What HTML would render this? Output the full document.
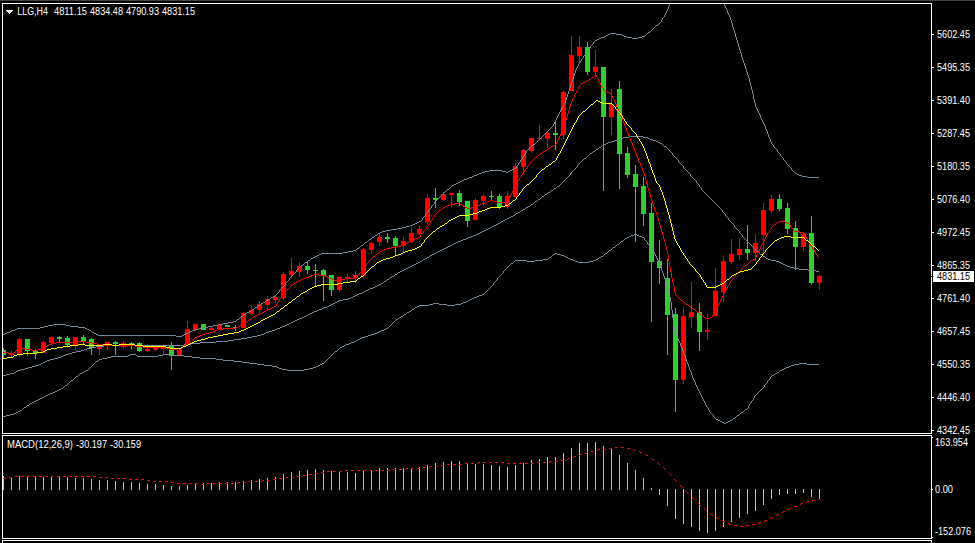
<!DOCTYPE html>
<html><head><meta charset="utf-8"><title>LLG,H4</title>
<style>
html,body{margin:0;padding:0;background:#000;overflow:hidden}
svg{display:block}
text{font-family:"Liberation Sans",sans-serif;font-size:10px;fill:#fff}
.ln{fill:none;stroke-width:1}
</style></head><body>
<svg width="975" height="543" viewBox="0 0 975 543" shape-rendering="crispEdges">
<rect x="0" y="0" width="975" height="543" fill="#000"/>
<rect x="0" y="0" width="975" height="1" fill="#404040"/>

<defs><clipPath id="cm"><rect x="3" y="4" width="928" height="429"/></clipPath><clipPath id="cd"><rect x="3" y="436" width="928" height="102"/></clipPath></defs>
<g clip-path="url(#cm)">
<rect x="3" y="348" width="1" height="10" fill="#32cd32"/>
<rect x="1" y="350" width="5" height="5" fill="#32cd32"/>
<rect x="11" y="350" width="1" height="7" fill="#ff0000"/>
<rect x="9" y="353" width="5" height="2" fill="#ff0000"/>
<rect x="19" y="338" width="1" height="19" fill="#ff0000"/>
<rect x="17" y="339" width="5" height="15" fill="#ff0000"/>
<rect x="27" y="339" width="1" height="17" fill="#32cd32"/>
<rect x="25" y="339" width="5" height="12" fill="#32cd32"/>
<rect x="35" y="349" width="1" height="10" fill="#32cd32"/>
<rect x="33" y="351" width="5" height="2" fill="#32cd32"/>
<rect x="43" y="341" width="1" height="12" fill="#ff0000"/>
<rect x="41" y="342" width="5" height="11" fill="#ff0000"/>
<rect x="51" y="336" width="1" height="8" fill="#ff0000"/>
<rect x="49" y="337" width="5" height="6" fill="#ff0000"/>
<rect x="59" y="336" width="1" height="6" fill="#32cd32"/>
<rect x="57" y="337" width="5" height="2" fill="#32cd32"/>
<rect x="67" y="336" width="1" height="10" fill="#32cd32"/>
<rect x="65" y="338" width="5" height="7" fill="#32cd32"/>
<rect x="75" y="337" width="1" height="13" fill="#ff0000"/>
<rect x="73" y="337" width="5" height="9" fill="#ff0000"/>
<rect x="83" y="335" width="1" height="9" fill="#32cd32"/>
<rect x="81" y="337" width="5" height="5" fill="#32cd32"/>
<rect x="91" y="338" width="1" height="17" fill="#32cd32"/>
<rect x="89" y="339" width="5" height="9" fill="#32cd32"/>
<rect x="99" y="345" width="1" height="10" fill="#ff0000"/>
<rect x="97" y="346" width="5" height="3" fill="#ff0000"/>
<rect x="107" y="342" width="1" height="8" fill="#ff0000"/>
<rect x="105" y="342" width="5" height="4" fill="#ff0000"/>
<rect x="115" y="341" width="1" height="14" fill="#32cd32"/>
<rect x="113" y="342" width="5" height="2" fill="#32cd32"/>
<rect x="123" y="341" width="1" height="8" fill="#ff0000"/>
<rect x="121" y="343" width="5" height="4" fill="#ff0000"/>
<rect x="131" y="342" width="1" height="7" fill="#32cd32"/>
<rect x="129" y="343" width="5" height="2" fill="#32cd32"/>
<rect x="139" y="342" width="1" height="10" fill="#32cd32"/>
<rect x="137" y="343" width="5" height="8" fill="#32cd32"/>
<rect x="147" y="344" width="1" height="8" fill="#ff0000"/>
<rect x="145" y="349" width="5" height="2" fill="#ff0000"/>
<rect x="155" y="347" width="1" height="4" fill="#ff0000"/>
<rect x="153" y="348" width="5" height="2" fill="#ff0000"/>
<rect x="163" y="344" width="1" height="10" fill="#ff0000"/>
<rect x="161" y="346" width="5" height="3" fill="#ff0000"/>
<rect x="171" y="342" width="1" height="28" fill="#32cd32"/>
<rect x="169" y="346" width="5" height="9" fill="#32cd32"/>
<rect x="179" y="349" width="1" height="6" fill="#ff0000"/>
<rect x="177" y="350" width="5" height="5" fill="#ff0000"/>
<rect x="187" y="321" width="1" height="23" fill="#ff0000"/>
<rect x="185" y="329" width="5" height="15" fill="#ff0000"/>
<rect x="195" y="324" width="1" height="7" fill="#ff0000"/>
<rect x="193" y="324" width="5" height="6" fill="#ff0000"/>
<rect x="203" y="324" width="1" height="6" fill="#32cd32"/>
<rect x="201" y="324" width="5" height="6" fill="#32cd32"/>
<rect x="211" y="326" width="1" height="5" fill="#ff0000"/>
<rect x="209" y="328" width="5" height="2" fill="#ff0000"/>
<rect x="219" y="324" width="1" height="6" fill="#ff0000"/>
<rect x="217" y="325" width="5" height="4" fill="#ff0000"/>
<rect x="227" y="325" width="1" height="2" fill="#32cd32"/>
<rect x="225" y="325" width="5" height="2" fill="#32cd32"/>
<rect x="235" y="325" width="1" height="6" fill="#32cd32"/>
<rect x="233" y="327" width="5" height="1" fill="#32cd32"/>
<rect x="243" y="312" width="1" height="16" fill="#ff0000"/>
<rect x="241" y="313" width="5" height="15" fill="#ff0000"/>
<rect x="251" y="305" width="1" height="10" fill="#ff0000"/>
<rect x="249" y="310" width="5" height="4" fill="#ff0000"/>
<rect x="259" y="301" width="1" height="12" fill="#ff0000"/>
<rect x="257" y="304" width="5" height="6" fill="#ff0000"/>
<rect x="267" y="296" width="1" height="14" fill="#ff0000"/>
<rect x="265" y="299" width="5" height="6" fill="#ff0000"/>
<rect x="275" y="295" width="1" height="8" fill="#ff0000"/>
<rect x="273" y="297" width="5" height="3" fill="#ff0000"/>
<rect x="283" y="272" width="1" height="28" fill="#ff0000"/>
<rect x="281" y="274" width="5" height="24" fill="#ff0000"/>
<rect x="291" y="258" width="1" height="20" fill="#ff0000"/>
<rect x="289" y="271" width="5" height="4" fill="#ff0000"/>
<rect x="299" y="262" width="1" height="15" fill="#ff0000"/>
<rect x="297" y="266" width="5" height="6" fill="#ff0000"/>
<rect x="307" y="261" width="1" height="13" fill="#32cd32"/>
<rect x="305" y="266" width="5" height="4" fill="#32cd32"/>
<rect x="315" y="264" width="1" height="22" fill="#32cd32"/>
<rect x="313" y="270" width="5" height="1" fill="#32cd32"/>
<rect x="323" y="269" width="1" height="32" fill="#32cd32"/>
<rect x="321" y="270" width="5" height="6" fill="#32cd32"/>
<rect x="331" y="275" width="1" height="21" fill="#32cd32"/>
<rect x="329" y="275" width="5" height="15" fill="#32cd32"/>
<rect x="339" y="277" width="1" height="15" fill="#ff0000"/>
<rect x="337" y="277" width="5" height="13" fill="#ff0000"/>
<rect x="347" y="274" width="1" height="8" fill="#ff0000"/>
<rect x="345" y="277" width="5" height="2" fill="#ff0000"/>
<rect x="355" y="271" width="1" height="12" fill="#ff0000"/>
<rect x="353" y="275" width="5" height="3" fill="#ff0000"/>
<rect x="363" y="248" width="1" height="30" fill="#ff0000"/>
<rect x="361" y="249" width="5" height="27" fill="#ff0000"/>
<rect x="371" y="242" width="1" height="12" fill="#ff0000"/>
<rect x="369" y="243" width="5" height="7" fill="#ff0000"/>
<rect x="379" y="234" width="1" height="12" fill="#ff0000"/>
<rect x="377" y="237" width="5" height="5" fill="#ff0000"/>
<rect x="387" y="233" width="1" height="10" fill="#32cd32"/>
<rect x="385" y="237" width="5" height="2" fill="#32cd32"/>
<rect x="395" y="236" width="1" height="19" fill="#32cd32"/>
<rect x="393" y="238" width="5" height="8" fill="#32cd32"/>
<rect x="403" y="237" width="1" height="15" fill="#ff0000"/>
<rect x="401" y="241" width="5" height="5" fill="#ff0000"/>
<rect x="411" y="227" width="1" height="16" fill="#ff0000"/>
<rect x="409" y="233" width="5" height="9" fill="#ff0000"/>
<rect x="419" y="226" width="1" height="9" fill="#ff0000"/>
<rect x="417" y="229" width="5" height="5" fill="#ff0000"/>
<rect x="427" y="194" width="1" height="30" fill="#ff0000"/>
<rect x="425" y="198" width="5" height="24" fill="#ff0000"/>
<rect x="435" y="188" width="1" height="20" fill="#32cd32"/>
<rect x="433" y="198" width="5" height="2" fill="#32cd32"/>
<rect x="443" y="192" width="1" height="9" fill="#ff0000"/>
<rect x="441" y="194" width="5" height="6" fill="#ff0000"/>
<rect x="451" y="193" width="1" height="14" fill="#ff0000"/>
<rect x="449" y="193" width="5" height="2" fill="#ff0000"/>
<rect x="459" y="190" width="1" height="16" fill="#32cd32"/>
<rect x="457" y="193" width="5" height="9" fill="#32cd32"/>
<rect x="467" y="201" width="1" height="26" fill="#32cd32"/>
<rect x="465" y="201" width="5" height="20" fill="#32cd32"/>
<rect x="475" y="198" width="1" height="22" fill="#ff0000"/>
<rect x="473" y="200" width="5" height="20" fill="#ff0000"/>
<rect x="483" y="194" width="1" height="12" fill="#ff0000"/>
<rect x="481" y="196" width="5" height="5" fill="#ff0000"/>
<rect x="491" y="191" width="1" height="9" fill="#32cd32"/>
<rect x="489" y="196" width="5" height="1" fill="#32cd32"/>
<rect x="499" y="194" width="1" height="15" fill="#32cd32"/>
<rect x="497" y="196" width="5" height="11" fill="#32cd32"/>
<rect x="507" y="191" width="1" height="18" fill="#ff0000"/>
<rect x="505" y="196" width="5" height="11" fill="#ff0000"/>
<rect x="515" y="163" width="1" height="34" fill="#ff0000"/>
<rect x="513" y="166" width="5" height="31" fill="#ff0000"/>
<rect x="523" y="149" width="1" height="25" fill="#ff0000"/>
<rect x="521" y="150" width="5" height="17" fill="#ff0000"/>
<rect x="531" y="138" width="1" height="15" fill="#ff0000"/>
<rect x="529" y="138" width="5" height="13" fill="#ff0000"/>
<rect x="539" y="125" width="1" height="16" fill="#ff0000"/>
<rect x="537" y="138" width="5" height="1" fill="#ff0000"/>
<rect x="547" y="132" width="1" height="16" fill="#ff0000"/>
<rect x="545" y="133" width="5" height="6" fill="#ff0000"/>
<rect x="555" y="121" width="1" height="29" fill="#32cd32"/>
<rect x="553" y="133" width="5" height="2" fill="#32cd32"/>
<rect x="563" y="91" width="1" height="48" fill="#ff0000"/>
<rect x="561" y="92" width="5" height="43" fill="#ff0000"/>
<rect x="571" y="36" width="1" height="55" fill="#ff0000"/>
<rect x="569" y="55" width="5" height="36" fill="#ff0000"/>
<rect x="579" y="36" width="1" height="28" fill="#ff0000"/>
<rect x="577" y="47" width="5" height="9" fill="#ff0000"/>
<rect x="587" y="42" width="1" height="33" fill="#32cd32"/>
<rect x="585" y="47" width="5" height="25" fill="#32cd32"/>
<rect x="595" y="50" width="1" height="26" fill="#ff0000"/>
<rect x="593" y="67" width="5" height="5" fill="#ff0000"/>
<rect x="603" y="67" width="1" height="124" fill="#32cd32"/>
<rect x="601" y="67" width="5" height="50" fill="#32cd32"/>
<rect x="611" y="89" width="1" height="46" fill="#ff0000"/>
<rect x="609" y="104" width="5" height="13" fill="#ff0000"/>
<rect x="619" y="81" width="1" height="108" fill="#32cd32"/>
<rect x="617" y="89" width="5" height="65" fill="#32cd32"/>
<rect x="627" y="147" width="1" height="31" fill="#32cd32"/>
<rect x="625" y="153" width="5" height="22" fill="#32cd32"/>
<rect x="635" y="165" width="1" height="77" fill="#32cd32"/>
<rect x="633" y="174" width="5" height="13" fill="#32cd32"/>
<rect x="643" y="177" width="1" height="49" fill="#32cd32"/>
<rect x="641" y="186" width="5" height="28" fill="#32cd32"/>
<rect x="651" y="203" width="1" height="119" fill="#32cd32"/>
<rect x="649" y="213" width="5" height="49" fill="#32cd32"/>
<rect x="659" y="240" width="1" height="44" fill="#32cd32"/>
<rect x="657" y="261" width="5" height="7" fill="#32cd32"/>
<rect x="667" y="259" width="1" height="96" fill="#32cd32"/>
<rect x="665" y="278" width="5" height="37" fill="#32cd32"/>
<rect x="675" y="308" width="1" height="104" fill="#32cd32"/>
<rect x="673" y="314" width="5" height="66" fill="#32cd32"/>
<rect x="683" y="307" width="1" height="77" fill="#ff0000"/>
<rect x="681" y="316" width="5" height="64" fill="#ff0000"/>
<rect x="691" y="282" width="1" height="46" fill="#ff0000"/>
<rect x="689" y="312" width="5" height="5" fill="#ff0000"/>
<rect x="699" y="303" width="1" height="48" fill="#32cd32"/>
<rect x="697" y="312" width="5" height="20" fill="#32cd32"/>
<rect x="707" y="314" width="1" height="26" fill="#ff0000"/>
<rect x="705" y="330" width="5" height="2" fill="#ff0000"/>
<rect x="715" y="268" width="1" height="48" fill="#ff0000"/>
<rect x="713" y="291" width="5" height="25" fill="#ff0000"/>
<rect x="723" y="256" width="1" height="46" fill="#ff0000"/>
<rect x="721" y="261" width="5" height="31" fill="#ff0000"/>
<rect x="731" y="239" width="1" height="25" fill="#ff0000"/>
<rect x="729" y="254" width="5" height="8" fill="#ff0000"/>
<rect x="739" y="238" width="1" height="22" fill="#ff0000"/>
<rect x="737" y="249" width="5" height="6" fill="#ff0000"/>
<rect x="747" y="225" width="1" height="35" fill="#32cd32"/>
<rect x="745" y="249" width="5" height="4" fill="#32cd32"/>
<rect x="755" y="234" width="1" height="27" fill="#ff0000"/>
<rect x="753" y="243" width="5" height="10" fill="#ff0000"/>
<rect x="763" y="203" width="1" height="52" fill="#ff0000"/>
<rect x="761" y="210" width="5" height="25" fill="#ff0000"/>
<rect x="771" y="195" width="1" height="18" fill="#ff0000"/>
<rect x="769" y="199" width="5" height="12" fill="#ff0000"/>
<rect x="779" y="194" width="1" height="17" fill="#32cd32"/>
<rect x="777" y="199" width="5" height="10" fill="#32cd32"/>
<rect x="787" y="203" width="1" height="31" fill="#32cd32"/>
<rect x="785" y="208" width="5" height="21" fill="#32cd32"/>
<rect x="795" y="221" width="1" height="49" fill="#32cd32"/>
<rect x="793" y="228" width="5" height="19" fill="#32cd32"/>
<rect x="803" y="233" width="1" height="18" fill="#ff0000"/>
<rect x="801" y="234" width="5" height="13" fill="#ff0000"/>
<rect x="811" y="216" width="1" height="69" fill="#32cd32"/>
<rect x="809" y="233" width="5" height="50" fill="#32cd32"/>
<rect x="819" y="275" width="1" height="15" fill="#ff0000"/>
<rect x="817" y="276" width="5" height="7" fill="#ff0000"/>
<path class="ln" stroke="#778899" d="M669 4.5h1M669 5.5h1M668 6.5h1M668 7.5h1M668 8.5h1M667 9.5h1M667 10.5h1M666 11.5h1M666 12.5h1M665 13.5h1M665 14.5h1M664 15.5h1M664 16.5h1M663 17.5h1M662 18.5h1M662 19.5h1M661 20.5h1M661 21.5h1M660 22.5h1M659 23.5h1M658 24.5h1M656 25.5h2M655 26.5h1M654 27.5h1M653 28.5h1M652 29.5h1M651 30.5h1M650 31.5h1M648 32.5h2M610 33.5h6M647 33.5h1M608 34.5h2M616 34.5h6M646 34.5h1M606 35.5h2M622 35.5h2M645 35.5h1M604 36.5h2M624 36.5h3M642 36.5h3M601 37.5h3M627 37.5h5M638 37.5h4M599 38.5h2M632 38.5h6M597 39.5h2M595 40.5h2M594 41.5h1M593 42.5h1M593 43.5h1M592 44.5h1M591 45.5h1M590 46.5h1M590 47.5h1M589 48.5h1M588 49.5h1M587 50.5h1M587 51.5h1M586 52.5h1M585 53.5h1M585 54.5h1M584 55.5h1M583 56.5h1M583 57.5h1M582 58.5h1M581 59.5h1M581 60.5h1M580 61.5h1M580 62.5h1M579 63.5h1M578 64.5h1M578 65.5h1M577 66.5h1M577 67.5h1M576 68.5h1M576 69.5h1M575 70.5h1M575 71.5h1M575 72.5h1M574 73.5h1M574 74.5h1M574 75.5h1M573 76.5h1M573 77.5h1M573 78.5h1M572 79.5h1M572 80.5h1M572 81.5h1M571 82.5h1M571 83.5h1M571 84.5h1M570 85.5h1M570 86.5h1M570 87.5h1M569 88.5h1M569 89.5h1M569 90.5h1M568 91.5h1M568 92.5h1M568 93.5h1M567 94.5h1M567 95.5h1M567 96.5h1M566 97.5h1M566 98.5h1M566 99.5h1M565 100.5h1M565 101.5h1M565 102.5h1M564 103.5h1M564 104.5h1M563 105.5h1M563 106.5h1M562 107.5h1M561 108.5h1M561 109.5h1M560 110.5h1M560 111.5h1M559 112.5h1M559 113.5h1M558 114.5h1M558 115.5h1M557 116.5h1M557 117.5h1M556 118.5h1M556 119.5h1M555 120.5h1M555 121.5h1M554 122.5h1M554 123.5h1M553 124.5h1M553 125.5h1M552 126.5h1M551 127.5h1M550 128.5h1M549 129.5h1M548 130.5h1M547 131.5h1M546 132.5h1M545 133.5h1M544 134.5h1M543 135.5h1M542 136.5h1M541 137.5h1M540 138.5h1M539 139.5h1M538 140.5h1M537 141.5h1M536 142.5h1M535 143.5h1M533 144.5h2M532 145.5h1M531 146.5h1M530 147.5h1M529 148.5h1M528 149.5h1M527 150.5h1M526 151.5h1M526 152.5h1M525 153.5h1M524 154.5h1M524 155.5h1M523 156.5h1M522 157.5h1M522 158.5h1M521 159.5h1M520 160.5h1M520 161.5h1M519 162.5h1M518 163.5h1M518 164.5h1M517 165.5h1M516 166.5h1M516 167.5h1M514 168.5h2M512 169.5h2M489 170.5h13M510 170.5h2M485 171.5h4M502 171.5h4M508 171.5h2M482 172.5h3M506 172.5h2M479 173.5h3M477 174.5h2M474 175.5h3M472 176.5h2M469 177.5h3M467 178.5h2M464 179.5h3M462 180.5h2M460 181.5h2M458 182.5h2M456 183.5h2M454 184.5h2M452 185.5h2M451 186.5h1M450 187.5h1M449 188.5h1M447 189.5h2M446 190.5h1M445 191.5h1M444 192.5h1M443 193.5h1M442 194.5h1M441 195.5h1M440 196.5h1M439 197.5h1M438 198.5h1M437 199.5h1M436 200.5h1M435 201.5h1M434 202.5h1M434 203.5h1M433 204.5h1M432 205.5h1M431 206.5h1M431 207.5h1M430 208.5h1M429 209.5h1M428 210.5h1M428 211.5h1M427 212.5h1M426 213.5h1M425 214.5h1M425 215.5h1M424 216.5h1M423 217.5h1M422 218.5h1M422 219.5h1M421 220.5h1M419 221.5h2M417 222.5h2M415 223.5h2M413 224.5h2M410 225.5h3M406 226.5h4M402 227.5h4M397 228.5h5M391 229.5h6M386 230.5h5M382 231.5h4M380 232.5h2M378 233.5h2M377 234.5h1M375 235.5h2M374 236.5h1M372 237.5h2M371 238.5h1M369 239.5h2M368 240.5h1M367 241.5h1M365 242.5h2M364 243.5h1M363 244.5h1M361 245.5h2M360 246.5h1M359 247.5h1M357 248.5h2M356 249.5h1M353 250.5h3M348 251.5h5M343 252.5h5M321 253.5h22M319 254.5h2M317 255.5h2M315 256.5h2M313 257.5h2M311 258.5h2M310 259.5h1M308 260.5h2M307 261.5h1M305 262.5h2M304 263.5h1M303 264.5h1M301 265.5h2M300 266.5h1M299 267.5h1M298 268.5h1M297 269.5h1M296 270.5h1M296 271.5h1M295 272.5h1M294 273.5h1M293 274.5h1M292 275.5h1M291 276.5h1M290 277.5h1M289 278.5h1M289 279.5h1M288 280.5h1M287 281.5h1M286 282.5h1M285 283.5h1M285 284.5h1M284 285.5h1M283 286.5h1M282 287.5h1M281 288.5h1M280 289.5h1M279 290.5h1M279 291.5h1M278 292.5h1M277 293.5h1M276 294.5h1M275 295.5h1M273 296.5h2M271 297.5h2M270 298.5h1M268 299.5h2M266 300.5h2M265 301.5h1M263 302.5h2M261 303.5h2M260 304.5h1M258 305.5h2M257 306.5h1M255 307.5h2M254 308.5h1M252 309.5h2M251 310.5h1M249 311.5h2M247 312.5h2M246 313.5h1M244 314.5h2M243 315.5h1M241 316.5h2M240 317.5h1M239 318.5h1M237 319.5h2M236 320.5h1M233 321.5h3M228 322.5h5M223 323.5h5M53 324.5h13M218 324.5h5M48 325.5h5M66 325.5h4M213 325.5h5M44 326.5h4M70 326.5h8M208 326.5h5M40 327.5h4M78 327.5h7M203 327.5h5M17 328.5h23M85 328.5h2M199 328.5h4M15 329.5h2M87 329.5h2M195 329.5h4M12 330.5h3M89 330.5h2M192 330.5h3M10 331.5h2M91 331.5h1M190 331.5h2M7 332.5h3M92 332.5h2M188 332.5h2M5 333.5h2M94 333.5h2M186 333.5h2M3 334.5h2M96 334.5h2M184 334.5h2M98 335.5h78M182 335.5h2M176 336.5h6"/>
<path class="ln" stroke="#778899" d="M724 4.5h1M724 5.5h1M725 6.5h1M725 7.5h1M726 8.5h1M726 9.5h1M727 10.5h1M727 11.5h1M727 12.5h1M728 13.5h1M728 14.5h1M729 15.5h1M729 16.5h1M730 17.5h1M730 18.5h1M730 19.5h1M731 20.5h1M731 21.5h1M731 22.5h1M732 23.5h1M732 24.5h1M732 25.5h1M732 26.5h1M733 27.5h1M733 28.5h1M733 29.5h1M734 30.5h1M734 31.5h1M734 32.5h1M735 33.5h1M735 34.5h1M735 35.5h1M735 36.5h1M736 37.5h1M736 38.5h1M736 39.5h1M737 40.5h1M737 41.5h1M737 42.5h1M738 43.5h1M738 44.5h1M738 45.5h1M738 46.5h1M739 47.5h1M739 48.5h1M739 49.5h1M740 50.5h1M740 51.5h1M740 52.5h1M741 53.5h1M741 54.5h1M741 55.5h1M741 56.5h1M742 57.5h1M742 58.5h1M742 59.5h1M743 60.5h1M743 61.5h1M743 62.5h1M744 63.5h1M744 64.5h1M744 65.5h1M745 66.5h1M745 67.5h1M745 68.5h1M746 69.5h1M746 70.5h1M746 71.5h1M747 72.5h1M747 73.5h1M747 74.5h1M748 75.5h1M748 76.5h1M748 77.5h1M749 78.5h1M749 79.5h1M749 80.5h1M749 81.5h1M750 82.5h1M750 83.5h1M750 84.5h1M750 85.5h1M751 86.5h1M751 87.5h1M751 88.5h1M751 89.5h1M752 90.5h1M752 91.5h1M752 92.5h1M752 93.5h1M753 94.5h1M753 95.5h1M753 96.5h1M753 97.5h1M753 98.5h1M754 99.5h1M754 100.5h1M754 101.5h1M754 102.5h1M755 103.5h1M755 104.5h1M755 105.5h1M755 106.5h1M756 107.5h1M756 108.5h1M757 109.5h1M757 110.5h1M758 111.5h1M758 112.5h1M759 113.5h1M759 114.5h1M760 115.5h1M760 116.5h1M760 117.5h1M761 118.5h1M761 119.5h1M762 120.5h1M762 121.5h1M763 122.5h1M763 123.5h1M764 124.5h1M764 125.5h1M765 126.5h1M765 127.5h1M765 128.5h1M766 129.5h1M766 130.5h1M767 131.5h1M767 132.5h1M767 133.5h1M768 134.5h1M768 135.5h1M768 136.5h1M769 137.5h1M769 138.5h1M770 139.5h1M770 140.5h1M770 141.5h1M771 142.5h1M771 143.5h1M772 144.5h1M773 145.5h1M773 146.5h1M774 147.5h1M775 148.5h1M776 149.5h1M777 150.5h1M777 151.5h1M778 152.5h1M779 153.5h1M780 154.5h1M780 155.5h1M781 156.5h1M782 157.5h1M783 158.5h1M783 159.5h1M784 160.5h1M785 161.5h1M786 162.5h1M786 163.5h1M787 164.5h1M788 165.5h1M789 166.5h1M790 167.5h1M791 168.5h1M791 169.5h1M792 170.5h1M793 171.5h1M794 172.5h1M795 173.5h2M797 174.5h2M799 175.5h3M802 176.5h5M807 177.5h12"/>
<path class="ln" stroke="#778899" d="M629 136.5h14M623 137.5h6M643 137.5h5M620 138.5h3M648 138.5h2M617 139.5h3M650 139.5h3M614 140.5h3M653 140.5h3M611 141.5h3M656 141.5h2M608 142.5h3M658 142.5h2M606 143.5h2M660 143.5h2M604 144.5h2M662 144.5h1M602 145.5h2M663 145.5h1M601 146.5h1M664 146.5h2M599 147.5h2M666 147.5h1M598 148.5h1M667 148.5h1M596 149.5h2M668 149.5h1M595 150.5h1M669 150.5h1M593 151.5h2M670 151.5h1M592 152.5h1M671 152.5h1M590 153.5h2M672 153.5h1M589 154.5h1M672 154.5h1M588 155.5h1M673 155.5h1M587 156.5h1M674 156.5h1M586 157.5h1M675 157.5h1M584 158.5h2M676 158.5h1M583 159.5h1M677 159.5h1M582 160.5h1M678 160.5h1M581 161.5h1M678 161.5h1M580 162.5h1M679 162.5h1M579 163.5h1M680 163.5h1M578 164.5h1M681 164.5h1M577 165.5h1M682 165.5h1M577 166.5h1M683 166.5h1M576 167.5h1M683 167.5h1M575 168.5h1M684 168.5h1M574 169.5h1M685 169.5h1M573 170.5h1M686 170.5h1M572 171.5h1M687 171.5h1M571 172.5h1M688 172.5h1M570 173.5h1M689 173.5h1M570 174.5h1M690 174.5h1M569 175.5h1M690 175.5h1M568 176.5h1M691 176.5h1M567 177.5h1M692 177.5h1M566 178.5h1M693 178.5h1M565 179.5h1M694 179.5h1M564 180.5h1M695 180.5h1M563 181.5h1M696 181.5h1M562 182.5h1M696 182.5h1M561 183.5h1M697 183.5h1M560 184.5h1M698 184.5h1M559 185.5h1M699 185.5h1M557 186.5h2M699 186.5h1M556 187.5h1M700 187.5h1M554 188.5h2M701 188.5h1M553 189.5h1M701 189.5h1M551 190.5h2M702 190.5h1M550 191.5h1M703 191.5h1M548 192.5h2M704 192.5h1M547 193.5h1M705 193.5h1M545 194.5h2M706 194.5h1M544 195.5h1M707 195.5h1M542 196.5h2M708 196.5h1M541 197.5h1M709 197.5h1M540 198.5h1M710 198.5h1M538 199.5h2M711 199.5h1M537 200.5h1M712 200.5h1M535 201.5h2M713 201.5h1M534 202.5h1M714 202.5h1M533 203.5h1M715 203.5h1M531 204.5h2M716 204.5h1M530 205.5h1M717 205.5h1M528 206.5h2M718 206.5h1M526 207.5h2M719 207.5h1M525 208.5h1M720 208.5h1M523 209.5h2M721 209.5h1M521 210.5h2M722 210.5h1M520 211.5h1M722 211.5h1M518 212.5h2M723 212.5h1M516 213.5h2M724 213.5h1M515 214.5h1M725 214.5h1M513 215.5h2M725 215.5h1M511 216.5h2M726 216.5h1M509 217.5h2M727 217.5h1M507 218.5h2M728 218.5h1M505 219.5h2M728 219.5h1M503 220.5h2M729 220.5h1M501 221.5h2M730 221.5h1M500 222.5h1M731 222.5h1M498 223.5h2M732 223.5h1M496 224.5h2M733 224.5h1M494 225.5h2M734 225.5h1M492 226.5h2M734 226.5h1M490 227.5h2M735 227.5h1M488 228.5h2M736 228.5h1M486 229.5h2M737 229.5h1M484 230.5h2M738 230.5h1M482 231.5h2M739 231.5h1M480 232.5h2M739 232.5h1M478 233.5h2M740 233.5h1M476 234.5h2M741 234.5h1M473 235.5h3M742 235.5h1M471 236.5h2M742 236.5h1M468 237.5h3M743 237.5h1M466 238.5h2M744 238.5h1M463 239.5h3M745 239.5h1M461 240.5h2M746 240.5h1M458 241.5h3M747 241.5h1M456 242.5h2M748 242.5h1M454 243.5h2M749 243.5h1M452 244.5h2M750 244.5h1M450 245.5h2M751 245.5h1M448 246.5h2M752 246.5h1M446 247.5h2M753 247.5h1M444 248.5h2M754 248.5h1M442 249.5h2M755 249.5h1M440 250.5h2M756 250.5h1M438 251.5h2M757 251.5h1M436 252.5h2M758 252.5h1M434 253.5h2M759 253.5h1M432 254.5h2M760 254.5h2M430 255.5h2M762 255.5h1M429 256.5h1M763 256.5h2M427 257.5h2M765 257.5h1M425 258.5h2M766 258.5h2M423 259.5h2M768 259.5h3M422 260.5h1M771 260.5h5M420 261.5h2M776 261.5h3M418 262.5h2M779 262.5h2M416 263.5h2M781 263.5h2M414 264.5h2M783 264.5h2M412 265.5h2M785 265.5h2M410 266.5h2M787 266.5h3M408 267.5h2M790 267.5h4M406 268.5h2M794 268.5h5M404 269.5h2M799 269.5h9M402 270.5h2M808 270.5h8M400 271.5h2M816 271.5h3M398 272.5h2M397 273.5h1M395 274.5h2M394 275.5h1M392 276.5h2M390 277.5h2M389 278.5h1M387 279.5h2M386 280.5h1M384 281.5h2M383 282.5h1M381 283.5h2M379 284.5h2M377 285.5h2M375 286.5h2M373 287.5h2M370 288.5h3M368 289.5h2M366 290.5h2M364 291.5h2M362 292.5h2M359 293.5h3M357 294.5h2M355 295.5h2M353 296.5h2M351 297.5h2M348 298.5h3M343 299.5h5M339 300.5h4M337 301.5h2M335 302.5h2M333 303.5h2M331 304.5h2M329 305.5h2M327 306.5h2M324 307.5h3M322 308.5h2M319 309.5h3M317 310.5h2M314 311.5h3M312 312.5h2M310 313.5h2M308 314.5h2M306 315.5h2M304 316.5h2M302 317.5h2M299 318.5h3M297 319.5h2M295 320.5h2M293 321.5h2M291 322.5h2M289 323.5h2M287 324.5h2M285 325.5h2M282 326.5h3M280 327.5h2M277 328.5h3M275 329.5h2M272 330.5h3M269 331.5h3M266 332.5h3M264 333.5h2M261 334.5h3M257 335.5h4M252 336.5h5M247 337.5h5M241 338.5h6M234 339.5h7M228 340.5h6M216 341.5h12M200 342.5h16M191 343.5h9M184 344.5h7M104 345.5h80M96 346.5h8M91 347.5h5M87 348.5h4M84 349.5h3M81 350.5h3M76 351.5h5M72 352.5h4M69 353.5h3M66 354.5h3M63 355.5h3M61 356.5h2M58 357.5h3M54 358.5h4M50 359.5h4M47 360.5h3M45 361.5h2M43 362.5h2M41 363.5h2M39 364.5h2M36 365.5h3M32 366.5h4M28 367.5h4M25 368.5h3M21 369.5h4M18 370.5h3M16 371.5h2M14 372.5h2M10 373.5h4M6 374.5h4M3 375.5h3"/>
<path class="ln" stroke="#778899" d="M634 234.5h3M631 235.5h3M637 235.5h2M629 236.5h2M639 236.5h3M627 237.5h2M642 237.5h2M625 238.5h2M644 238.5h1M624 239.5h1M644 239.5h1M623 240.5h1M645 240.5h1M621 241.5h2M646 241.5h1M620 242.5h1M647 242.5h1M619 243.5h1M647 243.5h1M617 244.5h2M648 244.5h1M616 245.5h1M649 245.5h1M615 246.5h1M649 246.5h1M613 247.5h2M650 247.5h1M612 248.5h1M651 248.5h1M611 249.5h1M652 249.5h1M609 250.5h2M652 250.5h1M608 251.5h1M653 251.5h1M607 252.5h1M654 252.5h1M555 253.5h2M605 253.5h2M654 253.5h1M553 254.5h2M557 254.5h4M604 254.5h1M655 254.5h1M552 255.5h1M561 255.5h3M603 255.5h1M655 255.5h1M551 256.5h1M564 256.5h2M601 256.5h2M656 256.5h1M549 257.5h2M566 257.5h2M599 257.5h2M656 257.5h1M548 258.5h1M568 258.5h2M598 258.5h1M657 258.5h1M543 259.5h5M570 259.5h3M596 259.5h2M657 259.5h1M515 260.5h12M535 260.5h8M573 260.5h2M593 260.5h3M658 260.5h1M514 261.5h1M527 261.5h8M575 261.5h3M589 261.5h4M658 261.5h1M513 262.5h1M578 262.5h11M658 262.5h1M511 263.5h2M659 263.5h1M510 264.5h1M659 264.5h1M509 265.5h1M660 265.5h1M508 266.5h1M660 266.5h1M507 267.5h1M660 267.5h1M506 268.5h1M661 268.5h1M505 269.5h1M661 269.5h1M504 270.5h1M661 270.5h1M503 271.5h1M662 271.5h1M503 272.5h1M662 272.5h1M502 273.5h1M663 273.5h1M501 274.5h1M663 274.5h1M500 275.5h1M663 275.5h1M499 276.5h1M664 276.5h1M498 277.5h1M664 277.5h1M497 278.5h1M664 278.5h1M497 279.5h1M665 279.5h1M496 280.5h1M665 280.5h1M495 281.5h1M665 281.5h1M494 282.5h1M666 282.5h1M493 283.5h1M666 283.5h1M493 284.5h1M666 284.5h1M492 285.5h1M666 285.5h1M491 286.5h1M667 286.5h1M490 287.5h1M667 287.5h1M489 288.5h1M667 288.5h1M488 289.5h1M668 289.5h1M487 290.5h1M668 290.5h1M486 291.5h1M668 291.5h1M485 292.5h1M668 292.5h1M484 293.5h1M669 293.5h1M482 294.5h2M669 294.5h1M479 295.5h3M669 295.5h1M477 296.5h2M669 296.5h1M474 297.5h3M670 297.5h1M472 298.5h2M670 298.5h1M470 299.5h2M670 299.5h1M468 300.5h2M670 300.5h1M466 301.5h2M670 301.5h1M463 302.5h3M671 302.5h1M433 303.5h6M461 303.5h2M671 303.5h1M429 304.5h4M439 304.5h8M455 304.5h6M671 304.5h1M419 305.5h10M447 305.5h8M671 305.5h1M417 306.5h2M671 306.5h1M415 307.5h2M671 307.5h1M414 308.5h1M671 308.5h1M412 309.5h2M671 309.5h1M411 310.5h1M672 310.5h1M409 311.5h2M672 311.5h1M407 312.5h2M672 312.5h1M406 313.5h1M672 313.5h1M404 314.5h2M672 314.5h1M403 315.5h1M672 315.5h1M401 316.5h2M672 316.5h1M399 317.5h2M672 317.5h1M398 318.5h1M673 318.5h1M396 319.5h2M673 319.5h1M395 320.5h1M673 320.5h1M394 321.5h1M673 321.5h1M393 322.5h1M673 322.5h1M392 323.5h1M673 323.5h1M391 324.5h1M673 324.5h1M390 325.5h1M673 325.5h1M389 326.5h1M674 326.5h1M388 327.5h1M674 327.5h1M386 328.5h2M674 328.5h1M384 329.5h2M674 329.5h1M381 330.5h3M674 330.5h1M379 331.5h2M674 331.5h1M377 332.5h2M675 332.5h1M374 333.5h3M675 333.5h1M371 334.5h3M676 334.5h1M368 335.5h3M676 335.5h1M365 336.5h3M677 336.5h1M362 337.5h3M677 337.5h1M360 338.5h2M677 338.5h1M358 339.5h2M678 339.5h1M356 340.5h2M678 340.5h1M354 341.5h2M679 341.5h1M351 342.5h3M679 342.5h1M349 343.5h2M680 343.5h1M346 344.5h3M680 344.5h1M344 345.5h2M680 345.5h1M342 346.5h2M681 346.5h1M340 347.5h2M681 347.5h1M339 348.5h1M682 348.5h1M338 349.5h1M682 349.5h1M337 350.5h1M682 350.5h1M335 351.5h2M683 351.5h1M334 352.5h1M683 352.5h1M333 353.5h1M683 353.5h1M130 354.5h6M163 354.5h6M332 354.5h1M684 354.5h1M128 355.5h2M136 355.5h1M158 355.5h5M169 355.5h15M331 355.5h1M684 355.5h1M111 356.5h17M137 356.5h21M184 356.5h8M330 356.5h1M685 356.5h1M107 357.5h4M192 357.5h8M329 357.5h1M685 357.5h1M102 358.5h5M200 358.5h16M328 358.5h1M685 358.5h1M99 359.5h3M216 359.5h7M327 359.5h1M686 359.5h1M98 360.5h1M223 360.5h11M326 360.5h1M686 360.5h1M96 361.5h2M234 361.5h8M325 361.5h1M686 361.5h1M95 362.5h1M242 362.5h7M324 362.5h1M687 362.5h1M94 363.5h1M249 363.5h8M322 363.5h2M687 363.5h1M799 363.5h8M93 364.5h1M257 364.5h7M320 364.5h2M688 364.5h1M794 364.5h5M807 364.5h12M92 365.5h1M264 365.5h8M318 365.5h2M688 365.5h1M791 365.5h3M91 366.5h1M272 366.5h5M316 366.5h2M688 366.5h1M789 366.5h2M90 367.5h1M277 367.5h2M313 367.5h3M689 367.5h1M786 367.5h3M89 368.5h1M279 368.5h3M309 368.5h4M689 368.5h1M784 368.5h2M88 369.5h1M282 369.5h5M304 369.5h5M689 369.5h1M782 369.5h2M86 370.5h2M287 370.5h17M690 370.5h1M780 370.5h2M84 371.5h2M690 371.5h1M779 371.5h1M82 372.5h2M691 372.5h1M777 372.5h2M80 373.5h2M691 373.5h1M775 373.5h2M79 374.5h1M691 374.5h1M774 374.5h1M78 375.5h1M692 375.5h1M772 375.5h2M76 376.5h2M692 376.5h1M771 376.5h1M75 377.5h1M692 377.5h1M770 377.5h1M74 378.5h1M693 378.5h1M770 378.5h1M73 379.5h1M693 379.5h1M769 379.5h1M71 380.5h2M694 380.5h1M768 380.5h1M70 381.5h1M694 381.5h1M767 381.5h1M69 382.5h1M695 382.5h1M767 382.5h1M68 383.5h1M695 383.5h1M766 383.5h1M67 384.5h1M695 384.5h1M765 384.5h1M65 385.5h2M696 385.5h1M764 385.5h1M64 386.5h1M696 386.5h1M764 386.5h1M63 387.5h1M697 387.5h1M763 387.5h1M61 388.5h2M697 388.5h1M762 388.5h1M59 389.5h2M698 389.5h1M761 389.5h1M57 390.5h2M698 390.5h1M760 390.5h1M55 391.5h2M699 391.5h1M759 391.5h1M53 392.5h2M699 392.5h1M758 392.5h1M50 393.5h3M700 393.5h1M757 393.5h1M48 394.5h2M700 394.5h1M756 394.5h1M46 395.5h2M701 395.5h1M755 395.5h1M44 396.5h2M701 396.5h1M754 396.5h1M42 397.5h2M702 397.5h1M754 397.5h1M40 398.5h2M702 398.5h1M753 398.5h1M38 399.5h2M703 399.5h1M753 399.5h1M36 400.5h2M703 400.5h1M752 400.5h1M34 401.5h2M704 401.5h1M751 401.5h1M32 402.5h2M704 402.5h1M751 402.5h1M30 403.5h2M705 403.5h1M750 403.5h1M29 404.5h1M705 404.5h1M749 404.5h1M27 405.5h2M706 405.5h1M749 405.5h1M26 406.5h1M706 406.5h1M748 406.5h1M24 407.5h2M707 407.5h1M748 407.5h1M23 408.5h1M708 408.5h1M747 408.5h1M22 409.5h1M708 409.5h1M745 409.5h2M20 410.5h2M709 410.5h1M744 410.5h1M18 411.5h2M709 411.5h1M743 411.5h1M16 412.5h2M710 412.5h1M741 412.5h2M14 413.5h2M711 413.5h1M740 413.5h1M10 414.5h4M712 414.5h1M739 414.5h1M6 415.5h4M713 415.5h1M737 415.5h2M3 416.5h3M713 416.5h1M736 416.5h1M714 417.5h1M735 417.5h1M715 418.5h1M733 418.5h2M716 419.5h2M732 419.5h1M718 420.5h2M730 420.5h2M720 421.5h2M728 421.5h2M722 422.5h2M726 422.5h2M724 423.5h2"/>
<path class="ln" stroke="#ff0000" d="M596 75.5h1M594 76.5h3M592 77.5h2M597 77.5h1M591 78.5h1M597 78.5h1M589 79.5h2M598 79.5h1M587 80.5h2M598 80.5h1M585 81.5h2M599 81.5h1M583 82.5h2M599 82.5h1M581 83.5h2M600 83.5h1M580 84.5h1M600 84.5h1M579 85.5h1M601 85.5h1M579 86.5h1M601 86.5h1M578 87.5h1M602 87.5h1M578 88.5h1M603 88.5h1M577 89.5h1M603 89.5h1M577 90.5h1M604 90.5h1M576 91.5h1M605 91.5h2M576 92.5h1M607 92.5h2M575 93.5h1M609 93.5h2M575 94.5h1M611 94.5h1M574 95.5h1M611 95.5h1M574 96.5h1M612 96.5h1M573 97.5h1M612 97.5h1M573 98.5h1M613 98.5h1M572 99.5h1M613 99.5h1M572 100.5h1M614 100.5h1M571 101.5h1M614 101.5h1M571 102.5h1M615 102.5h1M571 103.5h1M615 103.5h1M570 104.5h1M616 104.5h1M570 105.5h1M616 105.5h1M570 106.5h1M616 106.5h1M569 107.5h1M617 107.5h1M569 108.5h1M617 108.5h1M569 109.5h1M618 109.5h1M569 110.5h1M618 110.5h1M568 111.5h1M619 111.5h1M568 112.5h1M619 112.5h1M568 113.5h1M620 113.5h1M567 114.5h1M620 114.5h1M567 115.5h1M620 115.5h1M567 116.5h1M621 116.5h1M566 117.5h1M621 117.5h1M566 118.5h1M622 118.5h1M566 119.5h1M622 119.5h1M565 120.5h1M622 120.5h1M565 121.5h1M623 121.5h1M565 122.5h1M623 122.5h1M565 123.5h1M624 123.5h1M564 124.5h1M624 124.5h1M564 125.5h1M624 125.5h1M564 126.5h1M625 126.5h1M563 127.5h1M625 127.5h1M563 128.5h1M626 128.5h1M563 129.5h1M626 129.5h1M562 130.5h1M626 130.5h1M562 131.5h1M627 131.5h1M561 132.5h1M627 132.5h1M561 133.5h1M628 133.5h1M560 134.5h1M628 134.5h1M560 135.5h1M628 135.5h1M559 136.5h1M629 136.5h1M559 137.5h1M629 137.5h1M558 138.5h1M630 138.5h1M558 139.5h1M630 139.5h1M557 140.5h1M630 140.5h1M557 141.5h1M631 141.5h1M556 142.5h1M631 142.5h1M556 143.5h1M632 143.5h1M555 144.5h1M632 144.5h1M553 145.5h2M632 145.5h1M551 146.5h2M633 146.5h1M550 147.5h1M633 147.5h1M548 148.5h2M634 148.5h1M547 149.5h1M634 149.5h1M545 150.5h2M634 150.5h1M543 151.5h2M635 151.5h1M542 152.5h1M635 152.5h1M540 153.5h2M636 153.5h1M539 154.5h1M636 154.5h1M538 155.5h1M636 155.5h1M537 156.5h1M637 156.5h1M535 157.5h2M637 157.5h1M534 158.5h1M638 158.5h1M533 159.5h1M638 159.5h1M532 160.5h1M638 160.5h1M531 161.5h1M639 161.5h1M530 162.5h1M639 162.5h1M530 163.5h1M640 163.5h1M529 164.5h1M640 164.5h1M528 165.5h1M640 165.5h1M527 166.5h1M641 166.5h1M527 167.5h1M641 167.5h1M526 168.5h1M642 168.5h1M525 169.5h1M642 169.5h1M524 170.5h1M642 170.5h1M524 171.5h1M643 171.5h1M523 172.5h1M643 172.5h1M522 173.5h1M644 173.5h1M522 174.5h1M644 174.5h1M521 175.5h1M644 175.5h1M521 176.5h1M645 176.5h1M520 177.5h1M645 177.5h1M519 178.5h1M645 178.5h1M519 179.5h1M645 179.5h1M518 180.5h1M646 180.5h1M517 181.5h1M646 181.5h1M517 182.5h1M646 182.5h1M516 183.5h1M646 183.5h1M516 184.5h1M647 184.5h1M515 185.5h1M647 185.5h1M515 186.5h1M647 186.5h1M514 187.5h1M647 187.5h1M514 188.5h1M648 188.5h1M513 189.5h1M648 189.5h1M513 190.5h1M648 190.5h1M512 191.5h1M649 191.5h1M512 192.5h1M649 192.5h1M511 193.5h1M649 193.5h1M511 194.5h1M650 194.5h1M510 195.5h1M650 195.5h1M510 196.5h1M650 196.5h1M509 197.5h1M650 197.5h1M509 198.5h1M651 198.5h1M508 199.5h1M651 199.5h1M490 200.5h3M508 200.5h1M651 200.5h1M487 201.5h3M493 201.5h4M507 201.5h1M652 201.5h1M485 202.5h2M497 202.5h11M652 202.5h1M455 203.5h5M482 203.5h3M652 203.5h1M450 204.5h5M460 204.5h2M480 204.5h2M653 204.5h1M447 205.5h3M462 205.5h1M478 205.5h2M653 205.5h1M445 206.5h2M463 206.5h2M476 206.5h2M653 206.5h1M443 207.5h2M465 207.5h2M471 207.5h5M654 207.5h1M442 208.5h1M467 208.5h4M654 208.5h1M441 209.5h1M654 209.5h1M439 210.5h2M655 210.5h1M438 211.5h1M655 211.5h1M437 212.5h1M656 212.5h1M436 213.5h1M656 213.5h1M435 214.5h1M656 214.5h1M434 215.5h1M657 215.5h1M434 216.5h1M657 216.5h1M433 217.5h1M657 217.5h1M432 218.5h1M658 218.5h1M432 219.5h1M658 219.5h1M431 220.5h1M658 220.5h1M430 221.5h1M659 221.5h1M779 221.5h6M430 222.5h1M659 222.5h1M777 222.5h2M785 222.5h2M429 223.5h1M659 223.5h1M776 223.5h1M787 223.5h2M428 224.5h1M659 224.5h1M774 224.5h2M789 224.5h1M428 225.5h1M660 225.5h1M773 225.5h1M790 225.5h1M427 226.5h1M660 226.5h1M772 226.5h1M790 226.5h1M426 227.5h1M660 227.5h1M771 227.5h1M791 227.5h1M426 228.5h1M661 228.5h1M771 228.5h1M792 228.5h1M425 229.5h1M661 229.5h1M770 229.5h1M793 229.5h1M424 230.5h1M661 230.5h1M769 230.5h1M793 230.5h1M423 231.5h1M661 231.5h1M769 231.5h1M794 231.5h5M423 232.5h1M662 232.5h1M768 232.5h1M799 232.5h5M422 233.5h1M662 233.5h1M767 233.5h1M804 233.5h1M421 234.5h1M662 234.5h1M767 234.5h1M804 234.5h1M420 235.5h1M663 235.5h1M766 235.5h1M805 235.5h1M420 236.5h1M663 236.5h1M766 236.5h1M805 236.5h1M418 237.5h2M663 237.5h1M765 237.5h1M806 237.5h1M415 238.5h3M663 238.5h1M765 238.5h1M806 238.5h1M413 239.5h2M664 239.5h1M764 239.5h1M807 239.5h1M411 240.5h2M664 240.5h1M764 240.5h1M807 240.5h1M409 241.5h2M664 241.5h1M763 241.5h1M808 241.5h1M407 242.5h2M665 242.5h1M763 242.5h1M808 242.5h1M406 243.5h1M665 243.5h1M762 243.5h1M809 243.5h1M404 244.5h2M665 244.5h1M762 244.5h1M810 244.5h1M401 245.5h3M665 245.5h1M761 245.5h1M810 245.5h1M397 246.5h4M666 246.5h1M761 246.5h1M811 246.5h1M391 247.5h6M666 247.5h1M760 247.5h1M812 247.5h1M386 248.5h5M666 248.5h1M760 248.5h1M812 248.5h1M384 249.5h2M666 249.5h1M759 249.5h1M813 249.5h1M382 250.5h2M667 250.5h1M759 250.5h1M814 250.5h1M380 251.5h2M667 251.5h1M758 251.5h1M814 251.5h1M379 252.5h1M667 252.5h1M758 252.5h1M815 252.5h1M377 253.5h2M667 253.5h1M757 253.5h1M815 253.5h1M376 254.5h1M667 254.5h1M757 254.5h1M816 254.5h1M375 255.5h1M668 255.5h1M756 255.5h1M817 255.5h1M373 256.5h2M668 256.5h1M756 256.5h1M817 256.5h1M372 257.5h1M668 257.5h1M755 257.5h1M818 257.5h1M371 258.5h1M668 258.5h1M755 258.5h1M370 259.5h1M668 259.5h1M753 259.5h2M369 260.5h1M668 260.5h1M751 260.5h2M369 261.5h1M669 261.5h1M750 261.5h1M368 262.5h1M669 262.5h1M749 262.5h1M367 263.5h1M669 263.5h1M748 263.5h1M366 264.5h1M669 264.5h1M747 264.5h1M365 265.5h1M669 265.5h1M745 265.5h2M365 266.5h1M669 266.5h1M744 266.5h1M364 267.5h1M670 267.5h1M743 267.5h1M363 268.5h1M670 268.5h1M742 268.5h1M362 269.5h1M670 269.5h1M741 269.5h1M361 270.5h1M670 270.5h1M740 270.5h1M361 271.5h1M670 271.5h1M739 271.5h1M360 272.5h1M671 272.5h1M738 272.5h1M359 273.5h1M671 273.5h1M737 273.5h1M314 274.5h5M358 274.5h1M671 274.5h1M736 274.5h1M311 275.5h3M319 275.5h6M357 275.5h1M671 275.5h1M735 275.5h1M309 276.5h2M325 276.5h2M357 276.5h1M671 276.5h1M735 276.5h1M306 277.5h3M327 277.5h3M356 277.5h1M671 277.5h1M734 277.5h1M303 278.5h3M330 278.5h2M345 278.5h11M672 278.5h1M733 278.5h1M301 279.5h2M332 279.5h2M341 279.5h4M672 279.5h1M732 279.5h1M299 280.5h2M334 280.5h7M672 280.5h1M731 280.5h1M297 281.5h2M672 281.5h1M730 281.5h1M295 282.5h2M672 282.5h1M730 282.5h1M294 283.5h1M673 283.5h1M729 283.5h1M292 284.5h2M673 284.5h1M729 284.5h1M291 285.5h1M673 285.5h1M728 285.5h1M290 286.5h1M673 286.5h1M727 286.5h1M289 287.5h1M674 287.5h1M727 287.5h1M288 288.5h1M674 288.5h1M726 288.5h1M287 289.5h1M674 289.5h1M726 289.5h1M286 290.5h1M674 290.5h1M725 290.5h1M285 291.5h1M674 291.5h1M725 291.5h1M284 292.5h1M675 292.5h1M724 292.5h1M283 293.5h1M675 293.5h1M724 293.5h1M282 294.5h1M675 294.5h1M723 294.5h1M282 295.5h1M676 295.5h1M723 295.5h1M281 296.5h1M677 296.5h1M722 296.5h1M281 297.5h1M678 297.5h1M722 297.5h1M280 298.5h1M679 298.5h1M721 298.5h1M279 299.5h1M680 299.5h1M721 299.5h1M279 300.5h1M681 300.5h1M720 300.5h1M278 301.5h1M682 301.5h2M720 301.5h1M277 302.5h1M684 302.5h1M719 302.5h1M277 303.5h1M685 303.5h1M719 303.5h1M276 304.5h1M686 304.5h2M718 304.5h1M276 305.5h1M688 305.5h1M718 305.5h1M274 306.5h2M689 306.5h2M717 306.5h1M272 307.5h2M691 307.5h1M717 307.5h1M270 308.5h2M692 308.5h1M716 308.5h1M268 309.5h2M693 309.5h2M716 309.5h1M266 310.5h2M695 310.5h1M715 310.5h1M264 311.5h2M696 311.5h1M714 311.5h1M262 312.5h2M697 312.5h2M714 312.5h1M260 313.5h2M699 313.5h1M713 313.5h1M258 314.5h2M700 314.5h1M713 314.5h1M256 315.5h2M701 315.5h2M712 315.5h1M254 316.5h2M703 316.5h1M712 316.5h1M252 317.5h2M704 317.5h1M710 317.5h2M251 318.5h1M705 318.5h2M708 318.5h2M249 319.5h2M707 319.5h1M248 320.5h1M247 321.5h1M245 322.5h2M244 323.5h1M242 324.5h2M240 325.5h2M238 326.5h2M236 327.5h2M223 328.5h13M218 329.5h5M215 330.5h3M213 331.5h2M209 332.5h4M205 333.5h4M202 334.5h3M200 335.5h2M197 336.5h3M195 337.5h2M194 338.5h1M193 339.5h1M192 340.5h1M78 341.5h8M191 341.5h1M56 342.5h22M86 342.5h6M190 342.5h1M52 343.5h4M92 343.5h5M188 343.5h2M49 344.5h3M97 344.5h6M186 344.5h2M47 345.5h2M103 345.5h32M184 345.5h2M45 346.5h2M135 346.5h8M183 346.5h1M44 347.5h1M143 347.5h24M182 347.5h1M21 348.5h5M42 348.5h2M167 348.5h3M181 348.5h1M18 349.5h3M26 349.5h6M38 349.5h4M170 349.5h8M180 349.5h1M16 350.5h2M32 350.5h6M178 350.5h2M15 351.5h1M3 352.5h5M14 352.5h1M8 353.5h2M12 353.5h2M10 354.5h2"/>
<path class="ln" stroke="#ffff00" d="M596 100.5h2M595 101.5h1M598 101.5h2M594 102.5h1M600 102.5h2M593 103.5h1M602 103.5h10M591 104.5h2M612 104.5h1M590 105.5h1M613 105.5h1M589 106.5h1M614 106.5h1M588 107.5h1M615 107.5h1M587 108.5h1M615 108.5h1M586 109.5h1M616 109.5h1M585 110.5h1M617 110.5h1M583 111.5h2M618 111.5h1M582 112.5h1M619 112.5h1M581 113.5h1M620 113.5h1M580 114.5h1M620 114.5h1M579 115.5h1M621 115.5h1M578 116.5h1M622 116.5h1M578 117.5h1M622 117.5h1M577 118.5h1M623 118.5h1M577 119.5h1M624 119.5h1M576 120.5h1M624 120.5h1M576 121.5h1M625 121.5h1M575 122.5h1M626 122.5h1M574 123.5h1M626 123.5h1M574 124.5h1M627 124.5h1M573 125.5h1M628 125.5h1M573 126.5h1M629 126.5h1M572 127.5h1M630 127.5h1M572 128.5h1M631 128.5h1M571 129.5h1M631 129.5h1M571 130.5h1M632 130.5h1M570 131.5h1M633 131.5h1M570 132.5h1M634 132.5h1M569 133.5h1M635 133.5h1M569 134.5h1M636 134.5h1M568 135.5h1M636 135.5h1M568 136.5h1M637 136.5h1M567 137.5h1M637 137.5h1M567 138.5h1M638 138.5h1M566 139.5h1M639 139.5h1M566 140.5h1M639 140.5h1M565 141.5h1M640 141.5h1M565 142.5h1M641 142.5h1M564 143.5h1M641 143.5h1M564 144.5h1M642 144.5h1M563 145.5h1M642 145.5h1M563 146.5h1M643 146.5h1M562 147.5h1M643 147.5h1M562 148.5h1M644 148.5h1M561 149.5h1M644 149.5h1M561 150.5h1M644 150.5h1M560 151.5h1M645 151.5h1M560 152.5h1M645 152.5h1M559 153.5h1M646 153.5h1M558 154.5h1M646 154.5h1M558 155.5h1M646 155.5h1M557 156.5h1M647 156.5h1M557 157.5h1M647 157.5h1M556 158.5h1M647 158.5h1M556 159.5h1M648 159.5h1M555 160.5h1M648 160.5h1M553 161.5h2M648 161.5h1M552 162.5h1M649 162.5h1M551 163.5h1M649 163.5h1M549 164.5h2M650 164.5h1M548 165.5h1M650 165.5h1M546 166.5h2M650 166.5h1M545 167.5h1M651 167.5h1M544 168.5h1M651 168.5h1M542 169.5h2M651 169.5h1M541 170.5h1M652 170.5h1M540 171.5h1M652 171.5h1M539 172.5h1M652 172.5h1M538 173.5h1M653 173.5h1M537 174.5h1M653 174.5h1M536 175.5h1M654 175.5h1M536 176.5h1M654 176.5h1M535 177.5h1M654 177.5h1M534 178.5h1M655 178.5h1M533 179.5h1M655 179.5h1M532 180.5h1M655 180.5h1M531 181.5h1M656 181.5h1M530 182.5h1M656 182.5h1M529 183.5h1M657 183.5h1M527 184.5h2M658 184.5h1M526 185.5h1M659 185.5h1M525 186.5h1M659 186.5h1M524 187.5h1M660 187.5h1M523 188.5h1M660 188.5h1M522 189.5h1M660 189.5h1M522 190.5h1M661 190.5h1M521 191.5h1M661 191.5h1M520 192.5h1M662 192.5h1M519 193.5h1M662 193.5h1M519 194.5h1M662 194.5h1M518 195.5h1M663 195.5h1M517 196.5h1M663 196.5h1M516 197.5h1M663 197.5h1M516 198.5h1M664 198.5h1M515 199.5h1M664 199.5h1M513 200.5h2M664 200.5h1M512 201.5h1M665 201.5h1M511 202.5h1M665 202.5h1M509 203.5h2M665 203.5h1M508 204.5h1M665 204.5h1M505 205.5h3M666 205.5h1M501 206.5h4M666 206.5h1M490 207.5h11M666 207.5h1M487 208.5h3M667 208.5h1M485 209.5h2M667 209.5h1M482 210.5h3M667 210.5h1M479 211.5h3M667 211.5h1M477 212.5h2M668 212.5h1M473 213.5h4M668 213.5h1M469 214.5h4M668 214.5h1M459 215.5h10M669 215.5h1M457 216.5h2M669 216.5h1M455 217.5h2M669 217.5h1M453 218.5h2M669 218.5h1M451 219.5h2M670 219.5h1M449 220.5h2M670 220.5h1M448 221.5h1M670 221.5h1M447 222.5h1M670 222.5h1M445 223.5h2M671 223.5h1M444 224.5h1M671 224.5h1M442 225.5h2M671 225.5h1M440 226.5h2M671 226.5h1M439 227.5h1M672 227.5h1M437 228.5h2M672 228.5h1M436 229.5h1M672 229.5h1M435 230.5h1M672 230.5h1M433 231.5h2M673 231.5h1M432 232.5h1M673 232.5h1M431 233.5h1M673 233.5h1M430 234.5h1M673 234.5h1M429 235.5h1M674 235.5h1M428 236.5h1M674 236.5h1M784 236.5h7M427 237.5h1M674 237.5h1M781 237.5h3M791 237.5h13M426 238.5h1M674 238.5h1M779 238.5h2M804 238.5h1M425 239.5h1M675 239.5h1M777 239.5h2M805 239.5h1M424 240.5h1M675 240.5h1M775 240.5h2M806 240.5h2M424 241.5h1M676 241.5h1M774 241.5h1M808 241.5h1M423 242.5h1M676 242.5h1M773 242.5h1M809 242.5h1M422 243.5h1M677 243.5h1M772 243.5h1M810 243.5h1M421 244.5h1M677 244.5h1M771 244.5h1M811 244.5h1M421 245.5h1M678 245.5h1M770 245.5h1M812 245.5h1M419 246.5h2M679 246.5h1M769 246.5h1M813 246.5h2M417 247.5h2M679 247.5h1M768 247.5h1M815 247.5h1M415 248.5h2M680 248.5h1M767 248.5h1M816 248.5h1M412 249.5h3M680 249.5h1M766 249.5h1M817 249.5h1M408 250.5h4M681 250.5h1M765 250.5h1M818 250.5h1M405 251.5h3M681 251.5h1M765 251.5h1M403 252.5h2M682 252.5h1M764 252.5h1M401 253.5h2M683 253.5h1M763 253.5h1M398 254.5h3M683 254.5h1M762 254.5h1M395 255.5h3M684 255.5h1M762 255.5h1M393 256.5h2M685 256.5h1M761 256.5h1M390 257.5h3M685 257.5h1M760 257.5h1M386 258.5h4M686 258.5h1M759 258.5h1M383 259.5h3M687 259.5h1M759 259.5h1M381 260.5h2M687 260.5h1M758 260.5h1M379 261.5h2M688 261.5h1M757 261.5h1M377 262.5h2M689 262.5h1M756 262.5h1M376 263.5h1M689 263.5h1M756 263.5h1M375 264.5h1M690 264.5h1M755 264.5h1M374 265.5h1M691 265.5h1M754 265.5h1M372 266.5h2M692 266.5h1M753 266.5h1M371 267.5h1M693 267.5h1M752 267.5h1M370 268.5h1M694 268.5h1M751 268.5h1M369 269.5h1M695 269.5h1M748 269.5h3M368 270.5h1M695 270.5h1M744 270.5h4M367 271.5h1M696 271.5h1M740 271.5h4M366 272.5h1M697 272.5h1M738 272.5h2M365 273.5h1M698 273.5h1M736 273.5h2M364 274.5h1M699 274.5h1M734 274.5h2M363 275.5h1M700 275.5h1M732 275.5h2M361 276.5h2M700 276.5h1M731 276.5h1M360 277.5h1M701 277.5h1M730 277.5h1M358 278.5h2M701 278.5h1M729 278.5h1M357 279.5h1M702 279.5h1M727 279.5h2M356 280.5h1M703 280.5h1M726 280.5h1M350 281.5h6M703 281.5h1M725 281.5h1M343 282.5h7M704 282.5h1M724 282.5h1M338 283.5h5M705 283.5h1M722 283.5h2M321 284.5h17M705 284.5h1M720 284.5h2M317 285.5h4M706 285.5h1M718 285.5h2M314 286.5h3M706 286.5h1M716 286.5h2M312 287.5h2M707 287.5h9M310 288.5h2M308 289.5h2M307 290.5h1M305 291.5h2M303 292.5h2M301 293.5h2M300 294.5h1M299 295.5h1M297 296.5h2M296 297.5h1M295 298.5h1M293 299.5h2M292 300.5h1M291 301.5h1M289 302.5h2M288 303.5h1M287 304.5h1M285 305.5h2M284 306.5h1M283 307.5h1M281 308.5h2M280 309.5h1M279 310.5h1M277 311.5h2M276 312.5h1M275 313.5h1M273 314.5h2M271 315.5h2M269 316.5h2M267 317.5h2M265 318.5h2M263 319.5h2M261 320.5h2M260 321.5h1M258 322.5h2M256 323.5h2M254 324.5h2M252 325.5h2M250 326.5h2M248 327.5h2M246 328.5h2M244 329.5h2M241 330.5h3M239 331.5h2M234 332.5h5M228 333.5h6M223 334.5h5M218 335.5h5M213 336.5h5M208 337.5h5M205 338.5h3M201 339.5h4M197 340.5h4M194 341.5h3M192 342.5h2M190 343.5h2M78 344.5h7M103 344.5h9M119 344.5h16M188 344.5h2M70 345.5h8M85 345.5h18M112 345.5h7M135 345.5h8M186 345.5h2M63 346.5h7M143 346.5h23M183 346.5h3M57 347.5h6M166 347.5h4M181 347.5h2M51 348.5h6M170 348.5h11M47 349.5h4M45 350.5h2M43 351.5h2M37 352.5h6M23 353.5h14M17 354.5h6M14 355.5h3M13 356.5h1M7 357.5h6M3 358.5h4"/>
</g>
<g clip-path="url(#cd)">
<rect x="3" y="476" width="1" height="14" fill="#c0c0c0"/>
<rect x="11" y="478" width="1" height="12" fill="#c0c0c0"/>
<rect x="19" y="476" width="1" height="14" fill="#c0c0c0"/>
<rect x="27" y="477" width="1" height="13" fill="#c0c0c0"/>
<rect x="35" y="477" width="1" height="13" fill="#c0c0c0"/>
<rect x="43" y="477" width="1" height="13" fill="#c0c0c0"/>
<rect x="51" y="477" width="1" height="13" fill="#c0c0c0"/>
<rect x="59" y="477" width="1" height="13" fill="#c0c0c0"/>
<rect x="67" y="477" width="1" height="13" fill="#c0c0c0"/>
<rect x="75" y="478" width="1" height="12" fill="#c0c0c0"/>
<rect x="83" y="478" width="1" height="12" fill="#c0c0c0"/>
<rect x="91" y="479" width="1" height="11" fill="#c0c0c0"/>
<rect x="99" y="480" width="1" height="10" fill="#c0c0c0"/>
<rect x="107" y="480" width="1" height="10" fill="#c0c0c0"/>
<rect x="115" y="481" width="1" height="9" fill="#c0c0c0"/>
<rect x="123" y="482" width="1" height="8" fill="#c0c0c0"/>
<rect x="131" y="482" width="1" height="8" fill="#c0c0c0"/>
<rect x="139" y="483" width="1" height="7" fill="#c0c0c0"/>
<rect x="147" y="484" width="1" height="6" fill="#c0c0c0"/>
<rect x="155" y="484" width="1" height="6" fill="#c0c0c0"/>
<rect x="163" y="485" width="1" height="5" fill="#c0c0c0"/>
<rect x="171" y="486" width="1" height="4" fill="#c0c0c0"/>
<rect x="179" y="486" width="1" height="4" fill="#c0c0c0"/>
<rect x="187" y="485" width="1" height="5" fill="#c0c0c0"/>
<rect x="195" y="484" width="1" height="6" fill="#c0c0c0"/>
<rect x="203" y="483" width="1" height="7" fill="#c0c0c0"/>
<rect x="211" y="483" width="1" height="7" fill="#c0c0c0"/>
<rect x="219" y="482" width="1" height="8" fill="#c0c0c0"/>
<rect x="227" y="482" width="1" height="8" fill="#c0c0c0"/>
<rect x="235" y="482" width="1" height="8" fill="#c0c0c0"/>
<rect x="243" y="481" width="1" height="9" fill="#c0c0c0"/>
<rect x="251" y="480" width="1" height="10" fill="#c0c0c0"/>
<rect x="259" y="479" width="1" height="11" fill="#c0c0c0"/>
<rect x="267" y="478" width="1" height="12" fill="#c0c0c0"/>
<rect x="275" y="477" width="1" height="13" fill="#c0c0c0"/>
<rect x="283" y="474" width="1" height="16" fill="#c0c0c0"/>
<rect x="291" y="472" width="1" height="18" fill="#c0c0c0"/>
<rect x="299" y="471" width="1" height="19" fill="#c0c0c0"/>
<rect x="307" y="470" width="1" height="20" fill="#c0c0c0"/>
<rect x="315" y="469" width="1" height="21" fill="#c0c0c0"/>
<rect x="323" y="470" width="1" height="20" fill="#c0c0c0"/>
<rect x="331" y="471" width="1" height="19" fill="#c0c0c0"/>
<rect x="339" y="471" width="1" height="19" fill="#c0c0c0"/>
<rect x="347" y="472" width="1" height="18" fill="#c0c0c0"/>
<rect x="355" y="473" width="1" height="17" fill="#c0c0c0"/>
<rect x="363" y="470" width="1" height="20" fill="#c0c0c0"/>
<rect x="371" y="471" width="1" height="19" fill="#c0c0c0"/>
<rect x="379" y="468" width="1" height="22" fill="#c0c0c0"/>
<rect x="387" y="468" width="1" height="22" fill="#c0c0c0"/>
<rect x="395" y="468" width="1" height="22" fill="#c0c0c0"/>
<rect x="403" y="468" width="1" height="22" fill="#c0c0c0"/>
<rect x="411" y="468" width="1" height="22" fill="#c0c0c0"/>
<rect x="419" y="467" width="1" height="23" fill="#c0c0c0"/>
<rect x="427" y="465" width="1" height="25" fill="#c0c0c0"/>
<rect x="435" y="463" width="1" height="27" fill="#c0c0c0"/>
<rect x="443" y="462" width="1" height="28" fill="#c0c0c0"/>
<rect x="451" y="461" width="1" height="29" fill="#c0c0c0"/>
<rect x="459" y="461" width="1" height="29" fill="#c0c0c0"/>
<rect x="467" y="463" width="1" height="27" fill="#c0c0c0"/>
<rect x="475" y="464" width="1" height="26" fill="#c0c0c0"/>
<rect x="483" y="464" width="1" height="26" fill="#c0c0c0"/>
<rect x="491" y="465" width="1" height="25" fill="#c0c0c0"/>
<rect x="499" y="466" width="1" height="24" fill="#c0c0c0"/>
<rect x="507" y="467" width="1" height="23" fill="#c0c0c0"/>
<rect x="515" y="465" width="1" height="25" fill="#c0c0c0"/>
<rect x="523" y="463" width="1" height="27" fill="#c0c0c0"/>
<rect x="531" y="460" width="1" height="30" fill="#c0c0c0"/>
<rect x="539" y="459" width="1" height="31" fill="#c0c0c0"/>
<rect x="547" y="457" width="1" height="33" fill="#c0c0c0"/>
<rect x="555" y="457" width="1" height="33" fill="#c0c0c0"/>
<rect x="563" y="453" width="1" height="37" fill="#c0c0c0"/>
<rect x="571" y="448" width="1" height="42" fill="#c0c0c0"/>
<rect x="579" y="443" width="1" height="47" fill="#c0c0c0"/>
<rect x="587" y="443" width="1" height="47" fill="#c0c0c0"/>
<rect x="595" y="442" width="1" height="48" fill="#c0c0c0"/>
<rect x="603" y="446" width="1" height="44" fill="#c0c0c0"/>
<rect x="611" y="448" width="1" height="42" fill="#c0c0c0"/>
<rect x="619" y="455" width="1" height="35" fill="#c0c0c0"/>
<rect x="627" y="463" width="1" height="27" fill="#c0c0c0"/>
<rect x="635" y="470" width="1" height="20" fill="#c0c0c0"/>
<rect x="643" y="478" width="1" height="12" fill="#c0c0c0"/>
<rect x="651" y="488" width="1" height="2" fill="#c0c0c0"/>
<rect x="659" y="489" width="1" height="6" fill="#c0c0c0"/>
<rect x="667" y="489" width="1" height="17" fill="#c0c0c0"/>
<rect x="675" y="489" width="1" height="30" fill="#c0c0c0"/>
<rect x="683" y="489" width="1" height="35" fill="#c0c0c0"/>
<rect x="691" y="489" width="1" height="38" fill="#c0c0c0"/>
<rect x="699" y="489" width="1" height="42" fill="#c0c0c0"/>
<rect x="707" y="489" width="1" height="44" fill="#c0c0c0"/>
<rect x="715" y="489" width="1" height="42" fill="#c0c0c0"/>
<rect x="723" y="489" width="1" height="38" fill="#c0c0c0"/>
<rect x="731" y="489" width="1" height="33" fill="#c0c0c0"/>
<rect x="739" y="489" width="1" height="29" fill="#c0c0c0"/>
<rect x="747" y="489" width="1" height="25" fill="#c0c0c0"/>
<rect x="755" y="489" width="1" height="22" fill="#c0c0c0"/>
<rect x="763" y="489" width="1" height="16" fill="#c0c0c0"/>
<rect x="771" y="489" width="1" height="10" fill="#c0c0c0"/>
<rect x="779" y="489" width="1" height="6" fill="#c0c0c0"/>
<rect x="787" y="489" width="1" height="5" fill="#c0c0c0"/>
<rect x="795" y="489" width="1" height="5" fill="#c0c0c0"/>
<rect x="803" y="489" width="1" height="4" fill="#c0c0c0"/>
<rect x="811" y="489" width="1" height="8" fill="#c0c0c0"/>
<rect x="819" y="489" width="1" height="10" fill="#c0c0c0"/>
<path class="ln" stroke="#ff0000" d="M615 447.5h3M621 447.5h3M609 448.5h3M627 448.5h3M598 449.5h2M603 449.5h3M633 449.5h1M597 450.5h1M634 450.5h2M591 451.5h3M639 451.5h1M587 452.5h1M640 452.5h2M585 453.5h2M580 454.5h2M645 454.5h1M579 455.5h1M646 455.5h2M574 456.5h2M573 457.5h1M568 458.5h2M651 458.5h1M567 459.5h1M652 459.5h2M561 460.5h3M550 461.5h2M555 461.5h3M478 462.5h2M483 462.5h3M489 462.5h3M495 462.5h3M501 462.5h3M537 462.5h3M543 462.5h3M549 462.5h1M657 462.5h1M465 463.5h3M471 463.5h3M477 463.5h1M507 463.5h3M513 463.5h3M519 463.5h3M525 463.5h3M531 463.5h3M658 463.5h1M447 464.5h3M453 464.5h3M459 464.5h3M659 464.5h1M441 465.5h3M430 466.5h2M435 466.5h3M423 467.5h3M429 467.5h1M663 467.5h1M406 468.5h2M411 468.5h3M417 468.5h3M664 468.5h1M393 469.5h3M399 469.5h3M405 469.5h1M665 469.5h1M345 470.5h3M351 470.5h3M357 470.5h3M363 470.5h3M369 470.5h3M375 470.5h3M381 470.5h3M387 470.5h3M327 471.5h3M333 471.5h3M339 471.5h3M321 472.5h3M315 473.5h3M669 473.5h1M309 474.5h3M670 474.5h1M303 475.5h3M671 475.5h1M15 476.5h3M21 476.5h3M27 476.5h3M33 476.5h3M39 476.5h3M45 476.5h3M51 476.5h3M57 476.5h3M63 476.5h3M69 476.5h3M75 476.5h3M81 476.5h3M87 476.5h3M93 476.5h3M297 476.5h3M9 477.5h3M99 477.5h3M105 477.5h3M286 477.5h2M291 477.5h3M3 478.5h3M111 478.5h3M117 478.5h3M123 478.5h3M279 478.5h3M285 478.5h1M129 479.5h3M135 479.5h3M141 479.5h3M273 479.5h3M674 479.5h1M147 480.5h3M262 480.5h2M267 480.5h3M675 480.5h1M153 481.5h3M159 481.5h3M165 481.5h3M249 481.5h3M255 481.5h3M261 481.5h1M676 481.5h1M171 482.5h3M238 482.5h2M243 482.5h3M177 483.5h3M183 483.5h3M189 483.5h3M195 483.5h3M207 483.5h3M213 483.5h3M219 483.5h3M225 483.5h3M231 483.5h3M237 483.5h1M201 484.5h3M680 485.5h1M681 486.5h1M682 487.5h1M686 491.5h1M687 492.5h1M688 493.5h1M692 497.5h1M693 498.5h1M694 499.5h1M818 499.5h1M812 500.5h3M807 501.5h2M806 502.5h1M698 503.5h1M801 503.5h2M699 504.5h1M800 504.5h1M700 505.5h1M794 506.5h3M704 508.5h1M789 508.5h2M705 509.5h1M788 509.5h1M706 510.5h1M783 511.5h2M782 512.5h1M710 513.5h1M711 514.5h1M777 514.5h2M712 515.5h1M776 515.5h1M716 517.5h1M771 517.5h2M717 518.5h2M770 518.5h1M722 520.5h1M765 520.5h2M723 521.5h2M764 521.5h1M759 522.5h2M728 523.5h1M758 523.5h1M729 524.5h2M752 524.5h3M734 525.5h3M746 525.5h3M740 526.5h3"/>
</g>
<rect x="2" y="3" width="930" height="1" fill="#fff"/>
<rect x="2" y="433" width="930" height="1" fill="#fff"/>
<rect x="2" y="3" width="1" height="431" fill="#fff"/>
<rect x="931" y="3" width="1" height="431" fill="#fff"/>
<rect x="2" y="435" width="930" height="1" fill="#fff"/>
<rect x="2" y="538" width="930" height="1" fill="#fff"/>
<rect x="2" y="435" width="1" height="104" fill="#fff"/>
<rect x="931" y="435" width="1" height="104" fill="#fff"/>
<rect x="2" y="540" width="930" height="1" fill="#fff"/>
<rect x="2" y="540" width="1" height="3" fill="#fff"/>
<rect x="931" y="540" width="1" height="3" fill="#fff"/>
<rect x="932" y="34" width="2" height="1" fill="#fff"/>
<text x="937" y="38" textLength="33" lengthAdjust="spacingAndGlyphs">5602.45</text>
<rect x="932" y="67" width="2" height="1" fill="#fff"/>
<text x="937" y="71" textLength="33" lengthAdjust="spacingAndGlyphs">5495.35</text>
<rect x="932" y="100" width="2" height="1" fill="#fff"/>
<text x="937" y="104" textLength="33" lengthAdjust="spacingAndGlyphs">5391.40</text>
<rect x="932" y="133" width="2" height="1" fill="#fff"/>
<text x="937" y="137" textLength="33" lengthAdjust="spacingAndGlyphs">5287.45</text>
<rect x="932" y="166" width="2" height="1" fill="#fff"/>
<text x="937" y="170" textLength="33" lengthAdjust="spacingAndGlyphs">5180.35</text>
<rect x="932" y="199" width="2" height="1" fill="#fff"/>
<text x="937" y="203" textLength="33" lengthAdjust="spacingAndGlyphs">5076.40</text>
<rect x="932" y="232" width="2" height="1" fill="#fff"/>
<text x="937" y="236" textLength="33" lengthAdjust="spacingAndGlyphs">4972.45</text>
<rect x="932" y="265" width="2" height="1" fill="#fff"/>
<text x="937" y="269" textLength="33" lengthAdjust="spacingAndGlyphs">4865.35</text>
<rect x="932" y="298" width="2" height="1" fill="#fff"/>
<text x="937" y="302" textLength="33" lengthAdjust="spacingAndGlyphs">4761.40</text>
<rect x="932" y="331" width="2" height="1" fill="#fff"/>
<text x="937" y="335" textLength="33" lengthAdjust="spacingAndGlyphs">4657.45</text>
<rect x="932" y="364" width="2" height="1" fill="#fff"/>
<text x="937" y="368" textLength="33" lengthAdjust="spacingAndGlyphs">4550.35</text>
<rect x="932" y="397" width="2" height="1" fill="#fff"/>
<text x="937" y="401" textLength="33" lengthAdjust="spacingAndGlyphs">4446.40</text>
<rect x="932" y="430" width="2" height="1" fill="#fff"/>
<text x="937" y="434" textLength="33" lengthAdjust="spacingAndGlyphs">4342.45</text>
<rect x="933" y="271" width="41" height="11" fill="#fff"/>
<rect x="931" y="276" width="1" height="1" fill="#000"/>
<text x="937" y="280" style="fill:#000" textLength="33" lengthAdjust="spacingAndGlyphs">4831.15</text>
<rect x="932" y="437" width="1" height="1" fill="#fff"/>
<text x="935" y="446" textLength="33" lengthAdjust="spacingAndGlyphs">163.954</text>
<rect x="932" y="489" width="1" height="1" fill="#fff"/>
<text x="935" y="493" textLength="18" lengthAdjust="spacingAndGlyphs">0.00</text>
<rect x="932" y="537" width="1" height="1" fill="#fff"/>
<text x="935" y="535" textLength="36" lengthAdjust="spacingAndGlyphs">-152.076</text>
<rect x="6" y="10" width="7" height="1" fill="#fff"/>
<rect x="7" y="11" width="5" height="1" fill="#fff"/>
<rect x="8" y="12" width="3" height="1" fill="#fff"/>
<rect x="9" y="13" width="1" height="1" fill="#fff"/>
<text x="17.2" y="15" textLength="30.8" lengthAdjust="spacingAndGlyphs">LLG,H4</text>
<text x="54" y="15" textLength="33" lengthAdjust="spacingAndGlyphs">4811.15</text>
<text x="90" y="15" textLength="33" lengthAdjust="spacingAndGlyphs">4834.48</text>
<text x="126" y="15" textLength="33" lengthAdjust="spacingAndGlyphs">4790.93</text>
<text x="162" y="15" textLength="33" lengthAdjust="spacingAndGlyphs">4831.15</text>
<text x="7" y="448" textLength="66" lengthAdjust="spacingAndGlyphs">MACD(12,26,9)</text>
<text x="76" y="448" textLength="31" lengthAdjust="spacingAndGlyphs">-30.197</text>
<text x="110" y="448" textLength="31" lengthAdjust="spacingAndGlyphs">-30.159</text>
</svg></body></html>
